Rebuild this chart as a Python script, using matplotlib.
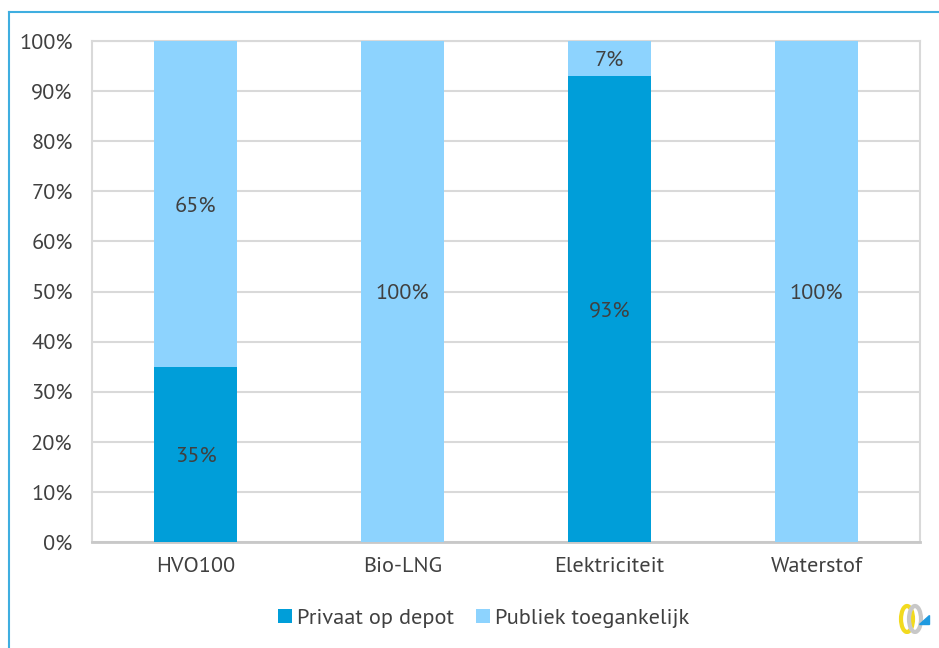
import numpy as np
import matplotlib.pyplot as plt
from matplotlib.lines import Line2D
from matplotlib.patches import Polygon, Ellipse

plt.rcParams['font.family'] = ['PT Sans', 'DejaVu Sans']

categories = ['HVO100', 'Bio-LNG', 'Elektriciteit', 'Waterstof']
privaat = [35, 0, 93, 0]
publiek = [65, 100, 7, 100]
series_names = ['Privaat op depot', 'Publiek toegankelijk']

dark_blue = '#009ED9'
light_blue = '#8DD3FE'
text_col = '#404040'
fs = 16

fig = plt.figure(figsize=(9.39, 6.48), dpi=100)
ax = fig.add_axes([92 / 939, 106 / 648, 828 / 939, 501 / 648])

x = np.arange(len(categories))
b1 = ax.bar(x, privaat, width=0.4, color=dark_blue, label=series_names[0], zorder=3)
b2 = ax.bar(x, publiek, width=0.4, bottom=privaat, color=light_blue,
            label=series_names[1], zorder=3)

# value labels in the middle of each non-empty segment
for i in range(len(categories)):
    if privaat[i] > 0:
        ax.text(x[i], privaat[i] / 2, f'{privaat[i]}%', ha='center', va='center_baseline',
                fontsize=fs, color=text_col, zorder=4)
    if publiek[i] > 0:
        ax.text(x[i], privaat[i] + publiek[i] / 2, f'{publiek[i]}%', ha='center',
                va='center_baseline', fontsize=fs, color=text_col, zorder=4)

ax.set_xlim(-0.5, len(categories) - 0.5)
ax.set_ylim(0, 100)
ax.set_yticks(np.arange(0, 101, 10))
ax.set_yticklabels([f'{v}%' for v in range(0, 101, 10)])
ax.set_xticks(x)
ax.set_xticklabels(categories)
ax.tick_params(axis='both', length=0, labelsize=fs, labelcolor=text_col)
ax.tick_params(axis='y', pad=14)
ax.tick_params(axis='x', pad=11)
ax.yaxis.grid(True, color='#D9D9D9', linewidth=1.5, zorder=0)
for side in ['left', 'right', 'top']:
    ax.spines[side].set_color('#D9D9D9')
    ax.spines[side].set_linewidth(1.5)
ax.spines['bottom'].set_color('#C8C8C8')
ax.spines['bottom'].set_linewidth(2)

leg = fig.legend(handles=[b1, b2], loc='center', bbox_to_anchor=(484 / 939, 1 - 618 / 648),
                 ncol=2, frameon=False, fontsize=fs, handlelength=0.6, handleheight=0.6,
                 handletextpad=0.25, columnspacing=1.0)
for t in leg.get_texts():
    t.set_color(text_col)

# outer frame (left and top edges)
fig.add_artist(Line2D([9 / 939, 9 / 939], [0, 1 - 12 / 648], color='#3FAEE0', lw=1.5))
fig.add_artist(Line2D([9 / 939, 1], [1 - 12 / 648, 1 - 12 / 648], color='#3FAEE0', lw=1.5))

# small logo in the lower right corner
lax = fig.add_axes([893 / 939, 1 - 634 / 648, 40 / 939, 34 / 648])
lax.set_xlim(0, 40)
lax.set_ylim(0, 34)
lax.axis('off')
lax.add_patch(Ellipse((14, 15), 12, 26, fill=False, ec='#F2DA1E', lw=3))
lax.add_patch(Ellipse((22, 15), 12, 26, fill=False, ec='#C8C8C8', lw=3))
lax.add_patch(Polygon([[26, 10], [36, 10], [36, 19]], closed=True, color='#1F9AE0'))

fig.savefig('out.png', dpi=100)
